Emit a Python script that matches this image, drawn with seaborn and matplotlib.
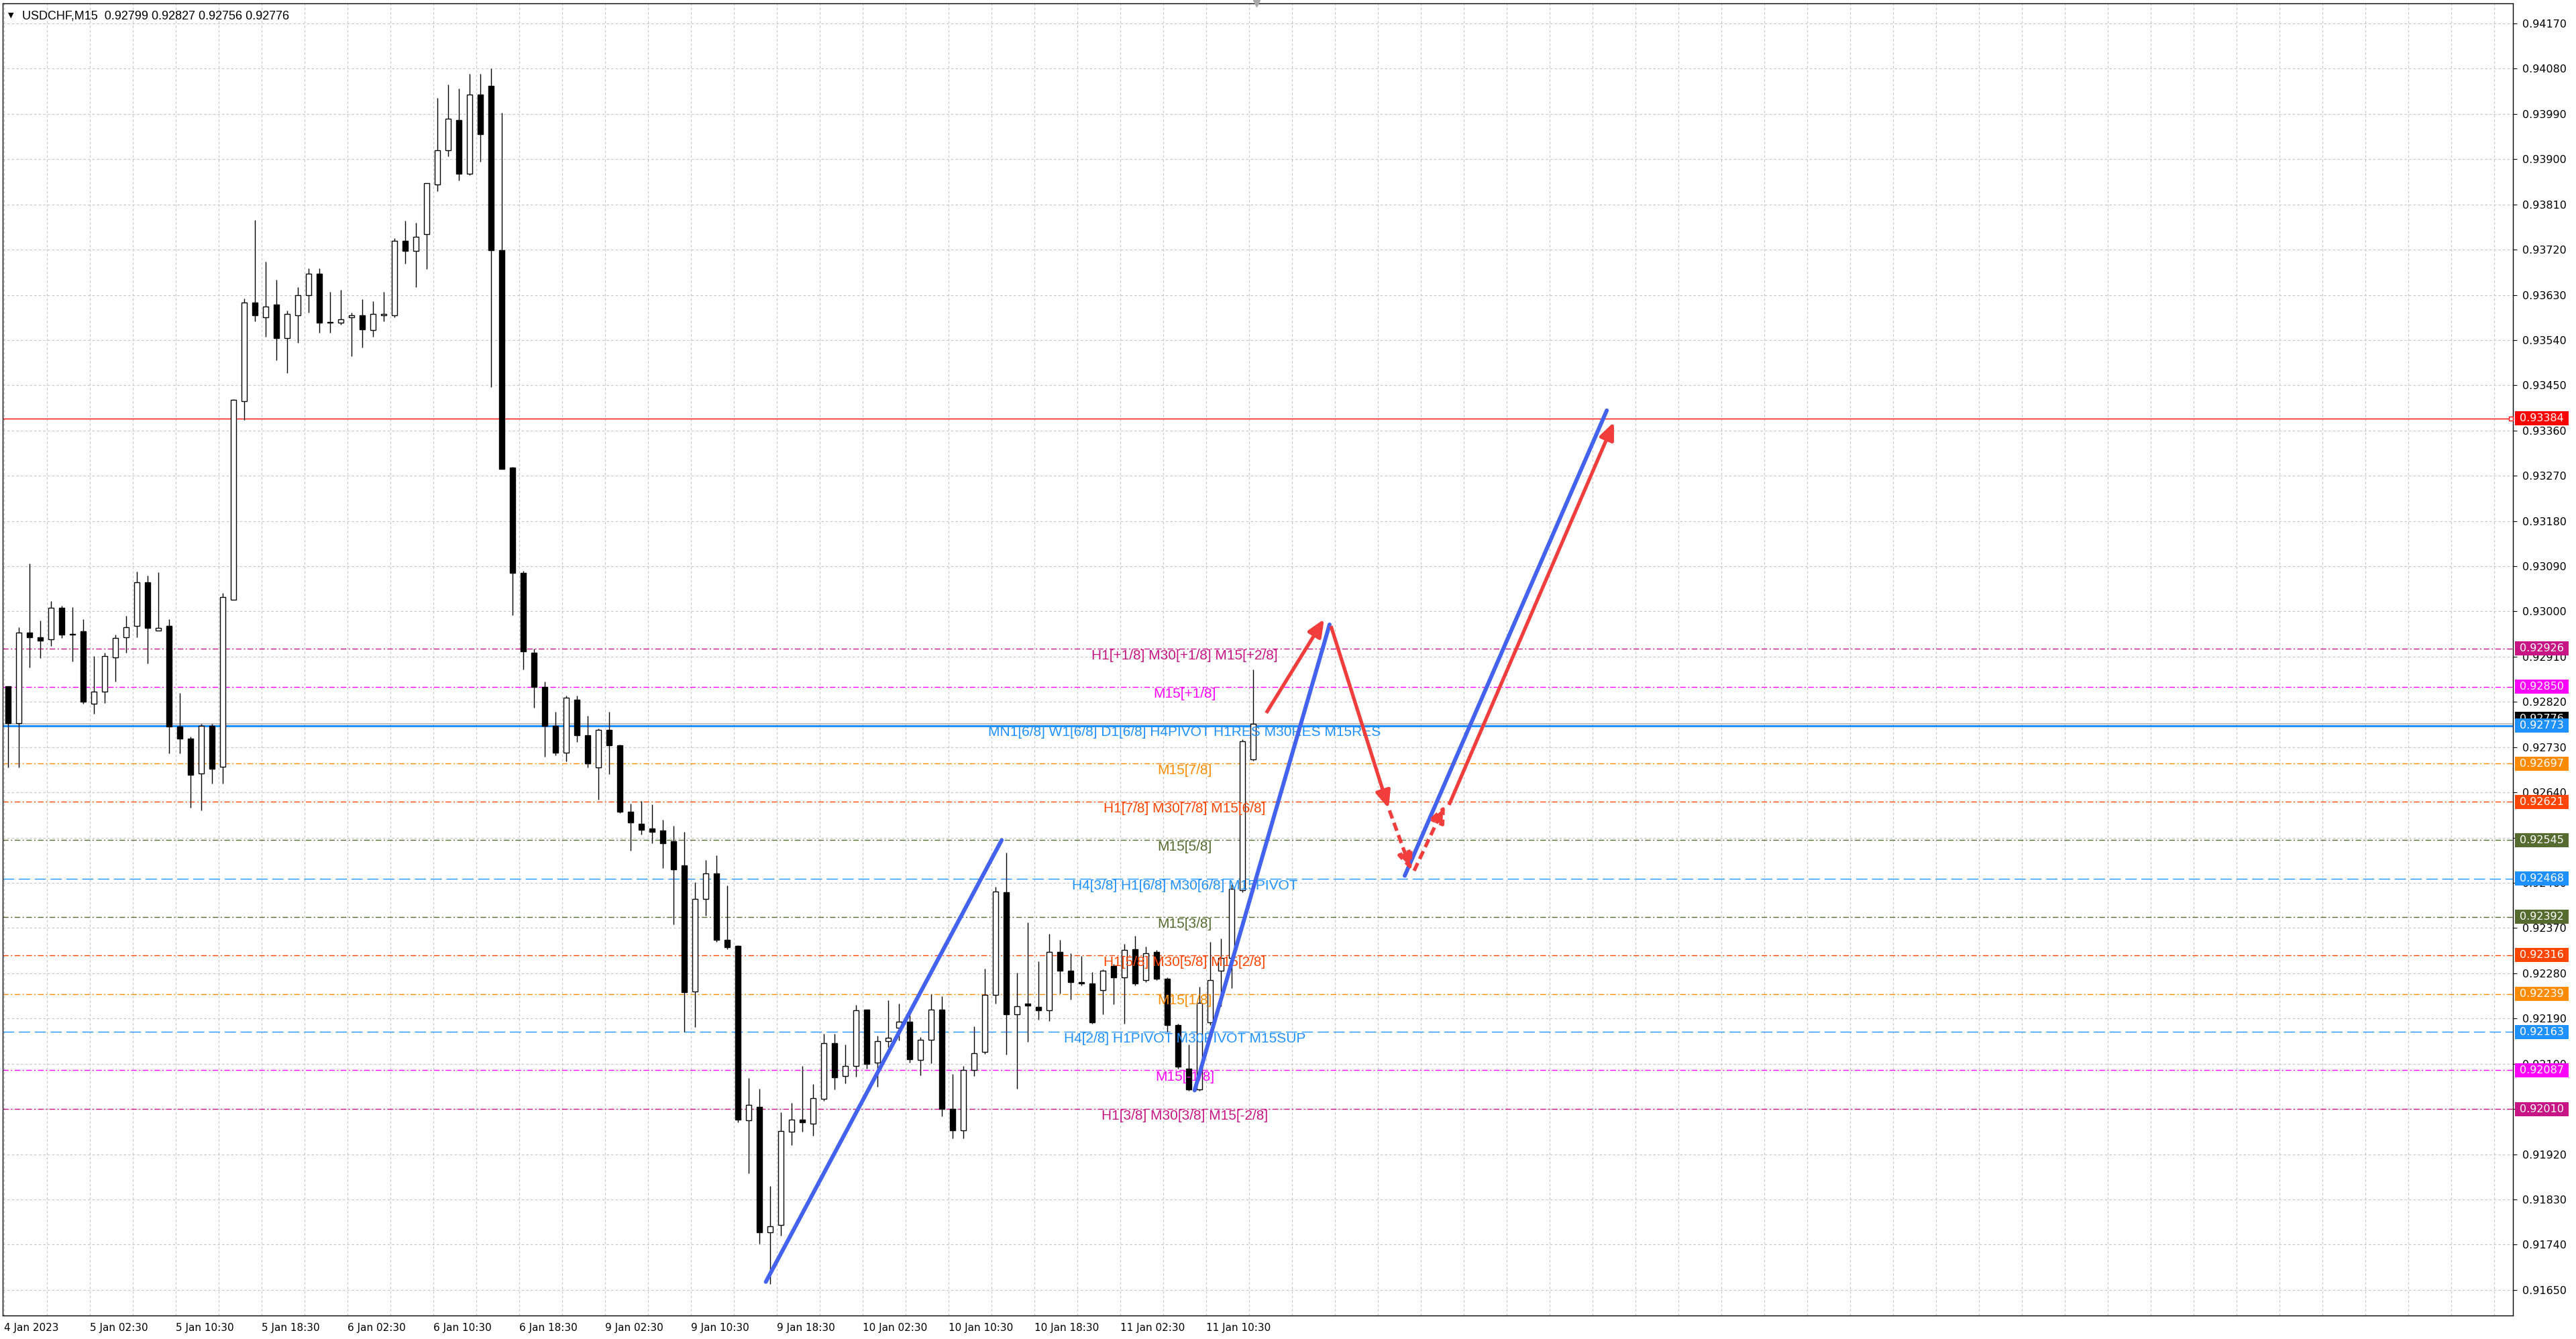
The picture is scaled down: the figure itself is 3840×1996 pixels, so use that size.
import numpy as np
import matplotlib
matplotlib.use("Agg")
import matplotlib.pyplot as plt
import matplotlib.transforms as mtransforms
from matplotlib.patches import Rectangle
import seaborn as sns

# ------------------------------------------------------------------ data
title_text = "USDCHF,M15  0.92799 0.92827 0.92756 0.92776"

# hourly OHLC (hour 0 starts at 4 Jan 18:30)
hour_index = list(range(117))
opens = [0.92851, 0.92778, 0.92958, 0.92949, 0.92945, 0.93007, 0.92954, 0.92960, 0.92816, 0.92840,
         0.92909, 0.92949, 0.92971, 0.93058, 0.92962, 0.92971, 0.92771, 0.92747, 0.92678, 0.92773,
         0.92691, 0.93023, 0.93419, 0.93615, 0.93585, 0.93611, 0.93544, 0.93589, 0.93629, 0.93672,
         0.93575, 0.93575, 0.93585, 0.93589, 0.93560, 0.93589, 0.93589, 0.93738, 0.93717, 0.93751,
         0.93850, 0.93918, 0.93978, 0.93871, 0.94028, 0.94046, 0.93719, 0.93286, 0.93077, 0.92918,
         0.92850, 0.92772, 0.92719, 0.92825, 0.92754, 0.92690, 0.92765, 0.92733, 0.92602, 0.92577,
         0.92568, 0.92564, 0.92543, 0.92495, 0.92244, 0.92428, 0.92479, 0.92346, 0.92334, 0.91988,
         0.92014, 0.91764, 0.91779, 0.91965, 0.91989, 0.91981, 0.92030, 0.92141, 0.92076, 0.92095,
         0.92208, 0.92102, 0.92145, 0.92171, 0.92184, 0.92107, 0.92148, 0.92208, 0.92010, 0.91968,
         0.92087, 0.92123, 0.92237, 0.92441, 0.92198, 0.92220, 0.92213, 0.92207, 0.92322, 0.92285,
         0.92263, 0.92260, 0.92247, 0.92295, 0.92272, 0.92328, 0.92266, 0.92322, 0.92269, 0.92177,
         0.92090, 0.92049, 0.92183, 0.92285, 0.92311, 0.92445, 0.92706]
highs = [0.92851, 0.92969, 0.93095, 0.92982, 0.93020, 0.93011, 0.93009, 0.92985, 0.92911, 0.92918,
         0.92954, 0.92991, 0.93080, 0.93071, 0.93078, 0.92985, 0.92838, 0.92751, 0.92776, 0.92776,
         0.93036, 0.93423, 0.93623, 0.93779, 0.93696, 0.93660, 0.93598, 0.93645, 0.93683, 0.93683,
         0.93636, 0.93640, 0.93594, 0.93621, 0.93617, 0.93636, 0.93743, 0.93777, 0.93774, 0.93852,
         0.94022, 0.94049, 0.94040, 0.94070, 0.94070, 0.94081, 0.93993, 0.93288, 0.93081, 0.92926,
         0.92860, 0.92801, 0.92833, 0.92833, 0.92793, 0.92767, 0.92801, 0.92735, 0.92618, 0.92623,
         0.92616, 0.92585, 0.92574, 0.92562, 0.92461, 0.92505, 0.92515, 0.92455, 0.92336, 0.92072,
         0.92050, 0.91857, 0.92003, 0.92022, 0.92095, 0.92060, 0.92160, 0.92160, 0.92138, 0.92217,
         0.92208, 0.92155, 0.92226, 0.92220, 0.92204, 0.92153, 0.92238, 0.92235, 0.92079, 0.92095,
         0.92174, 0.92289, 0.92452, 0.92520, 0.92281, 0.92381, 0.92304, 0.92358, 0.92347, 0.92320,
         0.92314, 0.92282, 0.92288, 0.92298, 0.92339, 0.92355, 0.92333, 0.92327, 0.92272, 0.92180,
         0.92138, 0.92253, 0.92343, 0.92349, 0.92457, 0.92745, 0.92885]
lows = [0.92689, 0.92689, 0.92889, 0.92907, 0.92931, 0.92947, 0.92900, 0.92816, 0.92796, 0.92818,
        0.92860, 0.92918, 0.92949, 0.92896, 0.92962, 0.92718, 0.92718, 0.92609, 0.92604, 0.92658,
        0.92657, 0.93023, 0.93381, 0.93577, 0.93547, 0.93500, 0.93474, 0.93534, 0.93594, 0.93555,
        0.93555, 0.93570, 0.93508, 0.93525, 0.93547, 0.93577, 0.93585, 0.93692, 0.93646, 0.93682,
        0.93836, 0.93905, 0.93857, 0.93868, 0.93895, 0.93446, 0.93283, 0.92992, 0.92884, 0.92809,
        0.92711, 0.92713, 0.92701, 0.92740, 0.92690, 0.92626, 0.92676, 0.92599, 0.92524, 0.92556,
        0.92539, 0.92489, 0.92377, 0.92164, 0.92173, 0.92394, 0.92342, 0.92328, 0.91984, 0.91882,
        0.91742, 0.91662, 0.91758, 0.91938, 0.91965, 0.91957, 0.92026, 0.92049, 0.92061, 0.92074,
        0.92090, 0.92054, 0.92133, 0.92146, 0.92102, 0.92077, 0.92101, 0.91995, 0.91951, 0.91951,
        0.92075, 0.92120, 0.92220, 0.92118, 0.92050, 0.92143, 0.92188, 0.92185, 0.92240, 0.92228,
        0.92256, 0.92180, 0.92199, 0.92218, 0.92180, 0.92256, 0.92263, 0.92266, 0.92164, 0.92090,
        0.92046, 0.92046, 0.92177, 0.92215, 0.92250, 0.92441, 0.92703]
closes = [0.92778, 0.92958, 0.92949, 0.92942, 0.93007, 0.92954, 0.92954, 0.92820, 0.92840, 0.92911,
          0.92947, 0.92969, 0.93058, 0.92967, 0.92967, 0.92771, 0.92747, 0.92675, 0.92773, 0.92687,
          0.93028, 0.93421, 0.93615, 0.93589, 0.93606, 0.93544, 0.93592, 0.93629, 0.93672, 0.93575,
          0.93575, 0.93581, 0.93589, 0.93561, 0.93592, 0.93592, 0.93738, 0.93717, 0.93745, 0.93852,
          0.93918, 0.93980, 0.93871, 0.94028, 0.93950, 0.93719, 0.93283, 0.93077, 0.92921, 0.92850,
          0.92772, 0.92719, 0.92828, 0.92754, 0.92697, 0.92765, 0.92733, 0.92602, 0.92580, 0.92566,
          0.92561, 0.92539, 0.92487, 0.92242, 0.92428, 0.92479, 0.92346, 0.92332, 0.91989, 0.92018,
          0.91765, 0.91777, 0.91966, 0.91989, 0.91984, 0.92032, 0.92141, 0.92073, 0.92096, 0.92207,
          0.92100, 0.92145, 0.92151, 0.92184, 0.92109, 0.92148, 0.92208, 0.92010, 0.91967, 0.92087,
          0.92121, 0.92237, 0.92443, 0.92198, 0.92215, 0.92216, 0.92207, 0.92322, 0.92285, 0.92263,
          0.92260, 0.92183, 0.92285, 0.92272, 0.92327, 0.92260, 0.92320, 0.92269, 0.92177, 0.92094,
          0.92049, 0.92221, 0.92266, 0.92311, 0.92448, 0.92742, 0.92776]

# price axis ticks
y_ticks = [0.91650, 0.91740, 0.91830, 0.91920, 0.92010, 0.92100, 0.92190, 0.92280, 0.92370, 0.92460,
           0.92550, 0.92640, 0.92730, 0.92820, 0.92910, 0.93000, 0.93090, 0.93180, 0.93270, 0.93360,
           0.93450, 0.93540, 0.93630, 0.93720, 0.93810, 0.93900, 0.93990, 0.94080, 0.94170]
# time axis (in M15 bar units)
x_tick_bars = [0, 32, 64, 96, 128, 160, 192, 224, 256, 288, 320, 352, 384, 416, 448]
x_tick_labels = ["4 Jan 2023", "5 Jan 02:30", "5 Jan 10:30", "5 Jan 18:30", "6 Jan 02:30",
                 "6 Jan 10:30", "6 Jan 18:30", "9 Jan 02:30", "9 Jan 10:30", "9 Jan 18:30",
                 "10 Jan 02:30", "10 Jan 10:30", "10 Jan 18:30", "11 Jan 02:30", "11 Jan 10:30"]

# Murrey-math style levels
level_prices = [0.92926, 0.92850, 0.92773, 0.92697, 0.92621, 0.92545, 0.92468,
                0.92392, 0.92316, 0.92239, 0.92163, 0.92087, 0.92010]
level_colors = ["#c71585", "#ff00ff", "#1e90ff", "#ff8c00", "#ff4500", "#556b2f", "#1e90ff",
                "#556b2f", "#ff4500", "#ff8c00", "#1e90ff", "#ff00ff", "#c71585"]
level_texts = ["H1[+1/8] M30[+1/8] M15[+2/8]", "M15[+1/8]",
               "MN1[6/8] W1[6/8] D1[6/8] H4PIVOT H1RES M30RES M15RES",
               "M15[7/8]", "H1[7/8] M30[7/8] M15[6/8]", "M15[5/8]",
               "H4[3/8] H1[6/8] M30[6/8] M15PIVOT", "M15[3/8]",
               "H1[5/8] M30[5/8] M15[2/8]", "M15[1/8]",
               "H4[2/8] H1PIVOT M30PIVOT M15SUP", "M15[-1/8]", "H1[3/8] M30[3/8] M15[-2/8]"]
level_kinds = ["dashdot", "dashdot", "solid", "dashdot", "dashdot", "dashdot", "dashed",
               "dashdot", "dashdot", "dashdot", "dashed", "dashdot", "dashdot"]

target_price = 0.93384
bid_price = 0.92776

# projected paths (bar index, price)
blue_x = [[283.9, 371.8], [443.7, 494.0], [522.0, 597.3]]
blue_y = [[0.91666, 0.92545], [0.92047, 0.92974], [0.92474, 0.93400]]
red_x = [[470.4, 492.0], [494.5, 516.0], [516.3, 524.5], [525.5, 537.0], [538.5, 600.0]]
red_y = [[0.92798, 0.92985], [0.92971, 0.92608], [0.92604, 0.92484], [0.92484, 0.92615], [0.92615, 0.93377]]
red_dashed = [False, False, True, True, False]

# ------------------------------------------------------------------ style
sns.set_theme(style="white")
plt.rcParams["font.family"] = ["DejaVu Sans"]

W, H = 3840, 1996
fig = plt.figure(figsize=(W / 100, H / 100), dpi=100)
fig.patch.set_facecolor("white")
ax_l, ax_r, ax_t, ax_b = 4, 3746, 5, 1961
ax = fig.add_axes([ax_l / W, (H - ax_b) / H, (ax_r - ax_l) / W, (ax_b - ax_t) / H])
ax.set_facecolor("white")

ax.set_xlim(-0.5, 935)
ax.set_ylim(0.91599, 0.94210)

# grid
grid_kw = dict(color="#c4c4c4", lw=0.8, ls=(0, (3, 3)))
ax.set_yticks(y_ticks)
ax.set_xticks(x_tick_bars)
ax.set_xticks(np.arange(0, 935, 16), minor=True)
ax.grid(True, which="major", axis="y", **grid_kw)
ax.grid(True, which="both", axis="x", **grid_kw)
ax.set_axisbelow(True)

# ------------------------------------------------------------------ candles
o = np.array(opens); h = np.array(highs); l = np.array(lows); c = np.array(closes)
xc = np.array(hour_index) * 4 + 1.5
up = c >= o
ax.vlines(xc, l, h, color="black", lw=1.0, zorder=3)
body_lo = np.minimum(o, c)
body_h = np.maximum(np.abs(c - o), 0.000012)
ax.bar(xc[up], body_h[up], bottom=body_lo[up], width=2.0, color="white",
       edgecolor="black", linewidth=1.0, zorder=4)
ax.bar(xc[~up], body_h[~up], bottom=body_lo[~up], width=2.0, color="black",
       edgecolor="black", linewidth=1.0, zorder=4)

# ------------------------------------------------------------------ levels
styles = {"dashdot": (0, (6, 2.5, 1.5, 2.5)), "dashed": (0, (12, 5)), "solid": "-"}
ax.axhline(target_price, color="#ff0000", lw=1.0, zorder=2)
ax.plot([934.2], [target_price], marker="s", ms=4, mfc="white", mec="#ff0000", mew=1.0,
        zorder=5, clip_on=False)
ax.axhline(bid_price, color="#c0c0c0", lw=1.5, zorder=2)
label_bar = 440
for p, col, txt, kind in zip(level_prices, level_colors, level_texts, level_kinds):
    ax.axhline(p, color=col, lw=2.2 if kind == "solid" else 1.0, ls=styles[kind], zorder=2)
    ax.annotate(txt, xy=(label_bar, p), xytext=(0, -0.5), textcoords="offset points",
                ha="center", va="top", color=col, fontsize=15, family="Liberation Sans",
                zorder=6)

# ------------------------------------------------------------------ projections
blue_col = "#4462f0"
for bx, by in zip(blue_x, blue_y):
    sns.lineplot(x=bx, y=by, ax=ax, color=blue_col, lw=4.3, sort=False, estimator=None,
                 legend=False, zorder=7, solid_capstyle="round")
red_col = "#f23d3d"
for (x0, x1), (y0, y1), dashed in zip(red_x, red_y, red_dashed):
    ax.annotate("", xy=(x1, y1), xytext=(x0, y0),
                arrowprops=dict(arrowstyle="-|>,head_length=0.7,head_width=0.3",
                                color=red_col, lw=3.8,
                                ls=(0, (2.4, 1.3)) if dashed else "-",
                                shrinkA=0, shrinkB=0, mutation_scale=22,
                                capstyle="butt"),
                zorder=8)

# ------------------------------------------------------------------ axes / ticks
for s in ax.spines.values():
    s.set_color("black")
    s.set_linewidth(1.0)
ax.yaxis.tick_right()
ax.yaxis.set_major_formatter(matplotlib.ticker.FormatStrFormatter("%.5f"))
ax.tick_params(axis="y", which="major", direction="out", length=4, width=0.8, pad=6,
               labelsize=11.5, colors="black", labelcolor="black")
ax.tick_params(axis="x", which="major", direction="out", length=5, width=0.8, pad=3,
               labelsize=11, colors="black")
ax.tick_params(axis="x", which="minor", length=0)
ax.set_xticklabels(x_tick_labels)
for lbl in ax.get_xticklabels():
    lbl.set_ha("left")
ax.set_xlabel("")
ax.set_ylabel("")

# right-side price boxes
axw_px = ax_r - ax_l
px_price = 1.0 / 74921.0
trans = mtransforms.blended_transform_factory(ax.transAxes, ax.transData)


def price_box(p, fc, shift_px=0.0, z=10):
    yc = p + shift_px * px_price
    ax.add_patch(Rectangle((1 + 3 / axw_px, yc - 10.5 * px_price), 80 / axw_px, 21 * px_price,
                           transform=trans, facecolor=fc, edgecolor="none",
                           clip_on=False, zorder=z))
    ax.text(1 + 10 / axw_px, yc, f"{p:.5f}", transform=trans, ha="left", va="center",
            color="white", fontsize=11.5, clip_on=False, zorder=z + 0.5)


price_box(target_price, "#ff0000")
price_box(bid_price, "#000000", shift_px=8, z=9)
for p, col in zip(level_prices, level_colors):
    price_box(p, col)

# header text
ax.text(8 / axw_px, 1 - 18 / (ax_b - ax_t), "\u25bc", transform=ax.transAxes,
        ha="left", va="center", fontsize=8, color="black")
ax.text(29 / axw_px, 1 - 19 / (ax_b - ax_t), title_text, transform=ax.transAxes,
        ha="left", va="center", fontsize=13, family="Liberation Sans", color="black")
# chart-shift marker
ax.plot([466.75], [0.94210], marker="v", ms=7, color="#a8a8a8", clip_on=False, zorder=11)

fig.savefig("out.png", dpi=100, facecolor="white")
